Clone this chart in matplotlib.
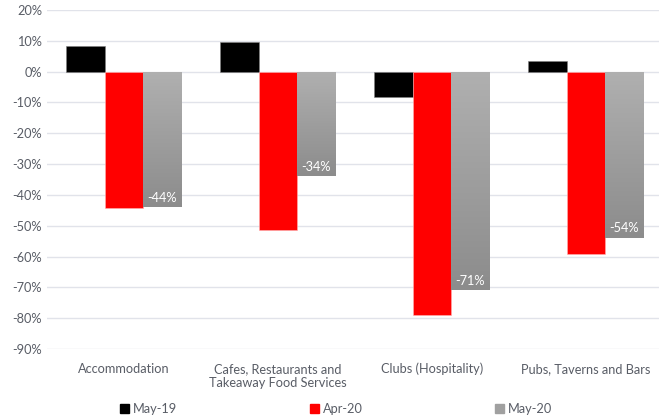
import numpy as np
import matplotlib.pyplot as plt
from matplotlib.ticker import FuncFormatter
from matplotlib.patches import Patch
from matplotlib.colors import LinearSegmentedColormap

categories = ['Accommodation', 'Cafes, Restaurants and\nTakeaway Food Services',
              'Clubs (Hospitality)', 'Pubs, Taverns and Bars']
may19 = [8.4, 9.7, -8.2, 3.6]
apr20 = [-44.3, -51.4, -79.0, -59.3]
may20 = [-44, -34, -71, -54]

plt.rcParams['font.family'] = ['Lato', 'DejaVu Sans']
text_col = '#595d66'

fig = plt.figure(figsize=(6.59, 4.2), dpi=100)
ax = fig.add_axes([47 / 659, 1 - 349 / 420, 616 / 659, 339 / 420])

x = np.arange(len(categories))
w = 0.25
ax.bar(x - w, may19, w, color='black', edgecolor='#7f7f7f', linewidth=0.4, zorder=3)
ax.bar(x, apr20, w, color='#ff0000', edgecolor='#ffb0b0', linewidth=0.4, zorder=3)
gray = ax.bar(x + w, may20, w, color='none', zorder=3)

# vertical gradient fill for the May-20 bars, light at the top
cmap = LinearSegmentedColormap.from_list('grey_fade', ['#b0b0b0', '#8c8c8c'])
grad = np.linspace(0, 1, 256).reshape(-1, 1)
for bar, val in zip(gray, may20):
    x0 = bar.get_x()
    im = ax.imshow(grad, cmap=cmap, aspect='auto',
                   extent=(x0, x0 + w, 0, val), origin='lower', zorder=3)
    im.set_clip_path(bar)
    ax.text(x0 + w / 2, val + 1.2, f'{val}%', ha='center', va='bottom',
            color='white', fontsize=9.2, zorder=4)

ax.set_xlim(-0.5, 3.5)
ax.set_ylim(-90, 20)
ax.set_yticks(range(-90, 21, 10))
ax.yaxis.set_major_formatter(FuncFormatter(lambda v, p: f'{int(v)}%'))
ax.set_xticks(x)
ax.set_xticklabels(categories)
ax.tick_params(length=0, labelsize=9.2, colors=text_col)
ax.tick_params(axis='x', pad=10)
ax.grid(axis='y', color='#e1e3ea', linewidth=1, zorder=0)
for s in ax.spines.values():
    s.set_visible(False)

handles = [Patch(color='black'), Patch(color='#ff0000'), Patch(color='#a0a0a0')]
fig.legend(handles, ['May-19', 'Apr-20', 'May-20'], loc='center',
           bbox_to_anchor=(0.51, 1 - 409 / 420), ncol=3, frameon=False,
           fontsize=9.2, labelcolor=text_col, handlelength=0.7, handleheight=0.7,
           handletextpad=0.3, columnspacing=10.4)

fig.savefig('out.png', dpi=100)
